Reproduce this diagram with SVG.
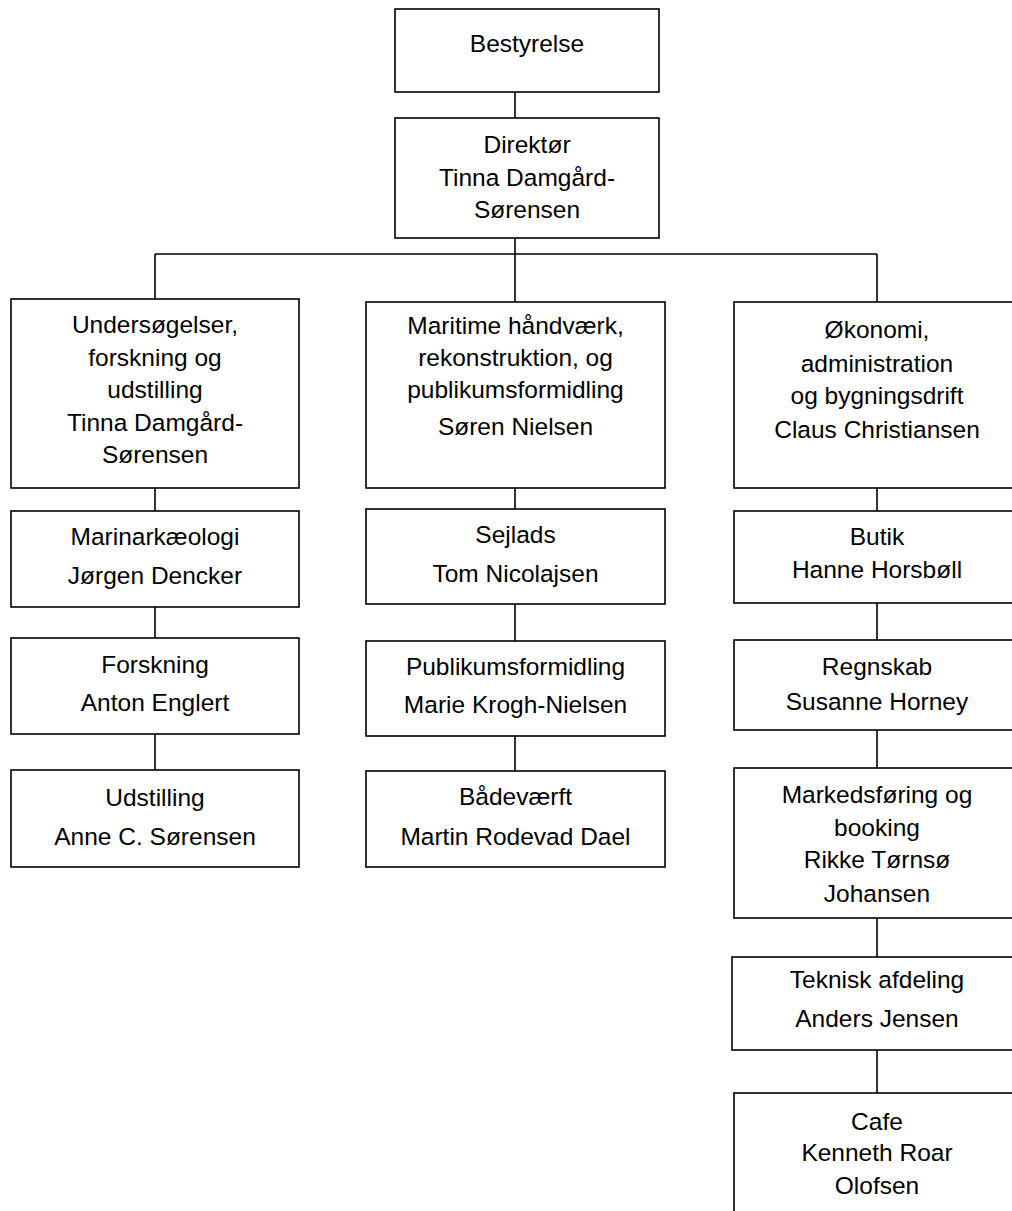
<svg xmlns="http://www.w3.org/2000/svg" width="1012" height="1211" viewBox="0 0 1012 1211">
<style>
rect{fill:#fff;stroke:#000;stroke-width:1.6}
line{stroke:#000;stroke-width:1.6}
text{font-family:"Liberation Sans",Arial,sans-serif;font-size:24.5px;fill:#000;text-anchor:middle}
</style>
<rect x="0" y="0" width="1012" height="1211" style="stroke:none"/>
<g id="connectors">
<line x1="515" y1="92" x2="515" y2="118"/>
<line x1="515" y1="238" x2="515" y2="302"/>
<line x1="155" y1="254" x2="877" y2="254"/>
<line x1="155" y1="254" x2="155" y2="299"/>
<line x1="877" y1="254" x2="877" y2="302"/>
<line x1="155" y1="488" x2="155" y2="511"/>
<line x1="155" y1="607" x2="155" y2="638"/>
<line x1="155" y1="734" x2="155" y2="770"/>
<line x1="515" y1="488" x2="515" y2="509"/>
<line x1="515" y1="604" x2="515" y2="641"/>
<line x1="515" y1="736" x2="515" y2="771"/>
<line x1="877" y1="488" x2="877" y2="511"/>
<line x1="877" y1="603" x2="877" y2="640"/>
<line x1="877" y1="730" x2="877" y2="768"/>
<line x1="877" y1="918" x2="877" y2="957"/>
<line x1="877" y1="1050" x2="877" y2="1093"/>
</g>
<g id="bestyrelse"><rect x="395" y="9" width="264" height="83"/><text x="527" y="52">Bestyrelse</text></g>
<g id="direktor"><rect x="395" y="118" width="264" height="120"/><text x="527" y="153">Direktør</text><text x="527" y="186">Tinna Damgård-</text><text x="527" y="218">Sørensen</text></g>
<g id="undersogelser"><rect x="11" y="299" width="288" height="189"/><text x="155" y="333">Undersøgelser,</text><text x="155" y="366">forskning og</text><text x="155" y="398">udstilling</text><text x="155" y="431">Tinna Damgård-</text><text x="155" y="463">Sørensen</text></g>
<g id="maritime"><rect x="366" y="302" width="299" height="186"/><text x="515.5" y="334">Maritime håndværk,</text><text x="515.5" y="366">rekonstruktion, og</text><text x="515.5" y="398">publikumsformidling</text><text x="515.5" y="435">Søren Nielsen</text></g>
<g id="okonomi"><rect x="734" y="302" width="286" height="186"/><text x="877" y="338">Økonomi,</text><text x="877" y="372">administration</text><text x="877" y="404">og bygningsdrift</text><text x="877" y="438">Claus Christiansen</text></g>
<g id="marinarkaeologi"><rect x="11" y="511" width="288" height="96"/><text x="155" y="545">Marinarkæologi</text><text x="155" y="584">Jørgen Dencker</text></g>
<g id="forskning"><rect x="11" y="638" width="288" height="96"/><text x="155" y="673">Forskning</text><text x="155" y="711">Anton Englert</text></g>
<g id="udstilling"><rect x="11" y="770" width="288" height="97"/><text x="155" y="806">Udstilling</text><text x="155" y="845">Anne C. Sørensen</text></g>
<g id="sejlads"><rect x="366" y="509" width="299" height="95"/><text x="515.5" y="543">Sejlads</text><text x="515.5" y="582">Tom Nicolajsen</text></g>
<g id="publikumsformidling"><rect x="366" y="641" width="299" height="95"/><text x="515.5" y="675">Publikumsformidling</text><text x="515.5" y="713">Marie Krogh-Nielsen</text></g>
<g id="badevaerft"><rect x="366" y="771" width="299" height="96"/><text x="515.5" y="805">Bådeværft</text><text x="515.5" y="845">Martin Rodevad Dael</text></g>
<g id="butik"><rect x="734" y="511" width="286" height="92"/><text x="877" y="545">Butik</text><text x="877" y="578">Hanne Horsbøll</text></g>
<g id="regnskab"><rect x="734" y="640" width="286" height="90"/><text x="877" y="675">Regnskab</text><text x="877" y="710">Susanne Horney</text></g>
<g id="markedsforing"><rect x="734" y="768" width="286" height="150"/><text x="877" y="803">Markedsføring og</text><text x="877" y="836">booking</text><text x="877" y="868">Rikke Tørnsø</text><text x="877" y="902">Johansen</text></g>
<g id="teknisk"><rect x="732" y="957" width="288" height="93"/><text x="877" y="988">Teknisk afdeling</text><text x="877" y="1027">Anders Jensen</text></g>
<g id="cafe"><rect x="734" y="1093" width="286" height="140"/><text x="877" y="1130">Cafe</text><text x="877" y="1161">Kenneth Roar</text><text x="877" y="1194">Olofsen</text></g>
</svg>
